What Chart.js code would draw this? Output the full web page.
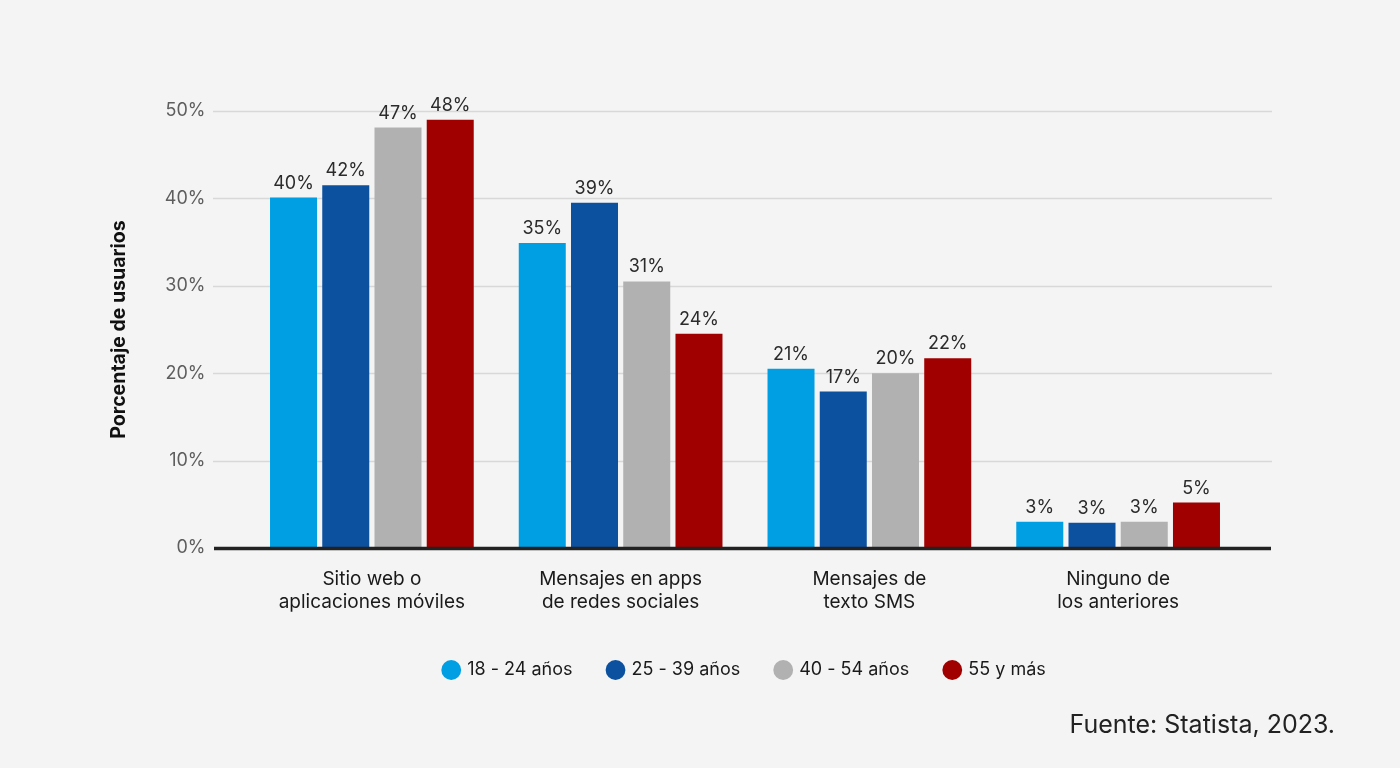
<!DOCTYPE html>
<html lang="es">
<head>
  <meta charset="UTF-8" />
  <title>Porcentaje de usuarios por edad</title>
  <script src="https://cdn.jsdelivr.net/npm/chart.js"></script>
  <style>
    html, body { margin: 0; padding: 0; background: #f4f4f4; }
    .wrap { position: relative; width: 1400px; height: 768px; }
    #chart { display: block; }
    .fuente {
      position: absolute; right: 65px; top: 709px;
      font-family: Inter, 'Noto Sans', sans-serif; font-size: 25px; color: #222;
    }
  </style>
</head>
<body>
  <div class="wrap">
    <canvas id="chart" width="1400" height="768"></canvas>
    <div class="fuente">Fuente: Statista, 2023.</div>
  </div>

  <script>
    // categorías (eje x), cada una en dos líneas
    const categories = [
      ['Sitio web o', 'aplicaciones móviles'],
      ['Mensajes en apps', 'de redes sociales'],
      ['Mensajes de', 'texto SMS'],
      ['Ninguno de', 'los anteriores']
    ];
    const ageGroups = ['18 - 24 años', '25 - 39 años', '40 - 54 años', '55 y más'];

    // alturas de barra
    const age18to24 = [40.1, 34.9, 20.5, 3.0];
    const age25to39 = [41.5, 39.5, 17.9, 2.9];
    const age40to54 = [48.1, 30.5, 20.0, 3.0];
    const age55plus = [49.0, 24.5, 21.7, 5.2];

    // etiquetas impresas sobre las barras
    const labels18to24 = ['40%', '35%', '21%', '3%'];
    const labels25to39 = ['42%', '39%', '17%', '3%'];
    const labels40to54 = ['47%', '31%', '20%', '3%'];
    const labels55plus = ['48%', '24%', '22%', '5%'];

    const yTicks = [0, 10, 20, 30, 40, 50];
    const colors = ['#009fe3', '#0c51a0', '#b1b1b1', '#a00000'];

    const FONT = "Inter, 'Noto Sans', sans-serif";

    const seriesValues = [age18to24, age25to39, age40to54, age55plus];
    const seriesLabels = [labels18to24, labels25to39, labels40to54, labels55plus];

    // rejilla horizontal y línea base que sobresalen del área del gráfico
    const gridPlugin = {
      id: 'gridPlugin',
      beforeDatasetsDraw(chart) {
        const { ctx } = chart;
        const y = chart.scales.y;
        ctx.save();
        ctx.strokeStyle = '#d8d8d8';
        ctx.lineWidth = 1.5;
        yTicks.slice(1).forEach(v => {
          const py = Math.round(y.getPixelForValue(v)) + 0.5;
          ctx.beginPath();
          ctx.moveTo(213, py);
          ctx.lineTo(1272, py);
          ctx.stroke();
        });
        ctx.restore();
      },
      afterDatasetsDraw(chart) {
        const { ctx } = chart;
        const y = chart.scales.y;
        ctx.save();
        // línea base
        ctx.strokeStyle = '#222';
        ctx.lineWidth = 3.5;
        const py0 = y.getPixelForValue(0) + 0.5;
        ctx.beginPath();
        ctx.moveTo(214, py0);
        ctx.lineTo(1271, py0);
        ctx.stroke();

        // etiquetas de valor
        ctx.fillStyle = '#2b2b2b';
        ctx.font = '18px ' + FONT;
        ctx.textAlign = 'center';
        ctx.textBaseline = 'alphabetic';
        chart.data.datasets.forEach((ds, i) => {
          chart.getDatasetMeta(i).data.forEach((bar, j) => {
            ctx.fillText(seriesLabels[i][j], bar.x, bar.y - 9);
          });
        });
        ctx.restore();
      }
    };

    new Chart(document.getElementById('chart'), {
      type: 'bar',
      data: {
        labels: categories,
        datasets: ageGroups.map((name, i) => ({
          label: name,
          data: seriesValues[i],
          backgroundColor: colors[i],
          borderWidth: 0,
          barPercentage: 0.9,
          categoryPercentage: 0.84
        }))
      },
      options: {
        responsive: false,
        animation: false,
        layout: { padding: { top: 111, right: 157.5, left: 0, bottom: 79 } },
        scales: {
          x: {
            grid: { display: false, drawTicks: false },
            border: { display: false },
            ticks: {
              color: '#1a1a1a',
              font: { family: FONT, size: 19, lineHeight: 1.2 },
              padding: 20,
              maxRotation: 0,
              autoSkip: false
            },
            afterFit(scale) { scale.height = 77; }
          },
          y: {
            min: 0,
            max: 50,
            grid: { display: false, drawTicks: false },
            border: { display: false },
            ticks: {
              stepSize: 10,
              color: '#5e5e5e',
              font: { family: FONT, size: 18 },
              padding: 42,
              callback: v => v + '%'
            },
            title: {
              display: true,
              text: 'Porcentaje de usuarios',
              color: '#111',
              font: { family: FONT, size: 19.5, weight: 'bold' },
              padding: { top: 107, bottom: 0 }
            },
            afterFit(scale) { scale.width = 247.5; }
          }
        },
        plugins: {
          legend: {
            position: 'bottom',
            fullSize: false,
            labels: {
              usePointStyle: true,
              pointStyle: 'circle',
              boxWidth: 14,
              boxHeight: 14,
              padding: 36,
              color: '#1a1a1a',
              font: { family: FONT, size: 18 }
            }
          },
          tooltip: { enabled: false }
        }
      },
      plugins: [gridPlugin]
    });
  </script>
</body>
</html>
